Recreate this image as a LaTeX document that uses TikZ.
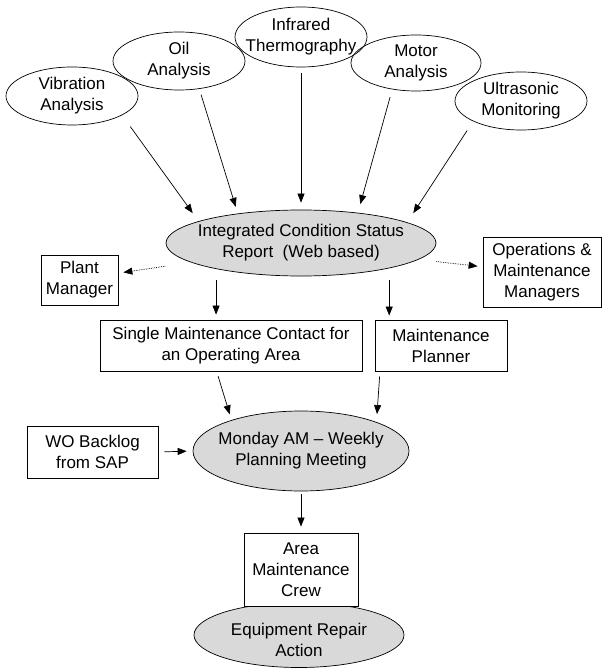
\documentclass[tikz,border=0pt]{standalone}
\usepackage{fontspec}
\setmainfont{Liberation Sans}
\usetikzlibrary{arrows.meta,shapes.geometric}
\definecolor{hubgray}{RGB}{217,217,217}

\begin{document}
\begin{tikzpicture}[x=1pt,y=-1pt,
            every node/.style={font=\fontsize{17}{21}\selectfont, align=center, inner sep=0pt},
            src/.style={draw, ellipse, line width=0.7pt, minimum width=132pt, minimum height=58pt},
            hub/.style={draw, ellipse, fill=hubgray, line width=0.7pt},
            txt/.style={label={center:#1}},
            box/.style={draw, rectangle, fill=white, line width=0.8pt},
            arr/.style={-{Triangle[length=9pt,width=7pt]}, line width=0.7pt},
            dotarr/.style={arr, densely dotted}]
            \useasboundingbox (0,0) rectangle (602,668);
            % measurement sources
            \node[src, txt={Vibration\\Analysis}] (vib) at (72,96) {};
            \node[src, txt={Oil\\Analysis}] (oil) at (179,61) {};
            \node[src, minimum height=60pt, txt={Infrared\\Thermography}] (ir) at (301,37) {};
            \node[src, minimum width=130pt, minimum height=56pt, txt={Motor\\Analysis}] (mot) at (416,63) {};
            \node[src, txt={Ultrasonic\\Monitoring}] (us) at (521,101) {};
            % report and the people it goes to
            \node[hub, minimum width=270pt, minimum height=66pt, txt={Integrated Condition Status\\Report~ (Web based)}] (icsr) at (301,243) {};
            \node[box, minimum width=77pt, minimum height=50pt] (plant) at (79.5,280) {Plant\\Manager};
            \node[box, minimum width=118pt, minimum height=70pt] (ops) at (542,272) {Operations \&\\Maintenance\\Managers};
            \node[box, minimum width=262pt, minimum height=51pt] (single) at (231,345.5) {Single Maintenance Contact for\\an Operating Area};
            \node[box, minimum width=132pt, minimum height=51pt] (plan) at (441,345.5) {Maintenance\\Planner};
            % planning
            \node[hub, minimum width=216pt, minimum height=80pt, txt={Monday AM – Weekly\\Planning Meeting}] (mon) at (301,451) {};
            \node[box, minimum width=131pt, minimum height=52pt] (wo) at (92.5,452) {WO Backlog\\from SAP};
            \node[hub, minimum width=210pt, minimum height=65pt, label={[yshift=-5pt]center:Equipment Repair\\Action}] (rep) at (299,635) {};
            \node[box, minimum width=114pt, minimum height=73pt] (area) at (301,569.5) {Area\\Maintenance\\Crew};
            \draw[arr, shorten <=14pt, shorten >=10pt] (vib.-21) -- (icsr.168);
            \draw[arr, shorten <=6pt, shorten >=7pt] (oil.-54) -- (icsr.155);
            \draw[arr, shorten <=6pt, shorten >=7pt] (ir.south) -- (icsr.north);
            \draw[arr, shorten <=8pt, shorten >=9pt] (mot.-132) -- (icsr.28);
            \draw[arr, shorten <=11pt, shorten >=11pt] (us.-157) -- (icsr.11);
            \draw[dotarr, shorten <=26pt, shorten >=5pt] (icsr.190) -- (plant.10);
            \draw[dotarr, shorten <=18pt, shorten >=5pt] (icsr.-8) -- (ops.175);
            \draw[arr, shorten <=11pt, shorten >=5pt] (icsr.197) -- (icsr.197 |- single.north);
            \draw[arr, shorten <=12pt, shorten >=4pt] (icsr.-16) -- (icsr.-16 |- plan.north);
            \draw[arr, shorten <=5pt, shorten >=6pt] (single.-119) -- (mon.156);
            \draw[arr, shorten <=5pt, shorten >=8pt] (plan.-157) -- (mon.21);
            \draw[arr, shorten <=6pt, shorten >=6pt] (wo.east) -- (mon.west);
            \draw[arr, shorten <=3pt, shorten >=6pt] (mon.south) -- (area.north);
        \end{tikzpicture}
\end{document}
